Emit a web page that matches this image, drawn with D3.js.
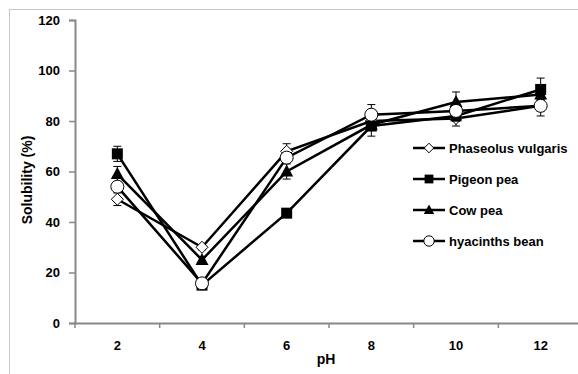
<!DOCTYPE html>
<html>
<head>
<meta charset="utf-8">
<script src="https://cdn.jsdelivr.net/npm/d3@7"></script>
<style>
  body { margin: 0; background: #fff; }
  svg text { font-family: "Liberation Sans", Arial, sans-serif; font-weight: bold; }
</style>
</head>
<body>
<svg id="chart"></svg>
<script>
// pH categories
const phLevels = ["2", "4", "6", "8", "10", "12"];
const yTicks = [0, 20, 40, 60, 80, 100, 120];

// solubility (%)
const phaseolus = [49, 30, 68, 80, 81, 86];
const pigeonPea = [67, 15, 43.5, 78, 82, 92.5];
const cowPea = [59, 25, 60, 78.5, 87.5, 90.5];
const hyacinth = [54, 15.7, 65.5, 82.5, 84, 86];

// error bars (+/-)
const phaseolusErr = [2.5, 1, 3, 2, 3, 2];
const pigeonErr = [3, 1, 1, 4, 2, 4.5];
const cowErr = [3, 1, 3, 2, 4, 2];
const hyacinthErr = [2, 1, 2, 4, 2, 4];

const seriesNames = ["Phaseolus vulgaris", "Pigeon pea", "Cow pea", "hyacinths bean"];
const seriesMarkers = ["diamond", "square", "triangle", "circle"];

const series = [
  { name: seriesNames[0], marker: seriesMarkers[0], values: phaseolus, err: phaseolusErr },
  { name: seriesNames[1], marker: seriesMarkers[1], values: pigeonPea, err: pigeonErr },
  { name: seriesNames[2], marker: seriesMarkers[2], values: cowPea, err: cowErr },
  { name: seriesNames[3], marker: seriesMarkers[3], values: hyacinth, err: hyacinthErr }
];

var width = 578, height = 374;
var plotLeft = 75, plotRight = 583, plotTop = 20, plotBottom = 323;

var svg = d3.select("#chart").attr("width", width).attr("height", height);

// outer chart border (cut off at right and bottom like the original)
svg.append("rect")
  .attr("x", 9.5).attr("y", 9.5)
  .attr("width", 600).attr("height", 400)
  .attr("fill", "none").attr("stroke", "#c8c8c8").attr("stroke-width", 1);

var x = d3.scaleBand().domain(phLevels).range([plotLeft, plotRight]).padding(0);
var y = d3.scaleLinear().domain([0, 120]).range([plotBottom, plotTop]);

// y axis
var yAxis = svg.append("g")
  .attr("transform", "translate(" + plotLeft + ",0)")
  .call(d3.axisLeft(y).tickValues(yTicks).tickSize(6).tickPadding(9));
yAxis.select(".domain").attr("stroke", "#888").attr("stroke-width", 2);
yAxis.selectAll(".tick line").attr("stroke", "#888").attr("stroke-width", 1.5);
yAxis.selectAll("text").attr("font-size", 13).attr("fill", "#000");

// x axis: labels in the middle of each band, ticks on the band edges
var xAxis = svg.append("g")
  .attr("transform", "translate(0," + plotBottom + ")")
  .call(d3.axisBottom(x).tickSize(0).tickPadding(18));
xAxis.select(".domain").attr("stroke", "#888").attr("stroke-width", 2);
xAxis.selectAll("text").attr("font-size", 13).attr("fill", "#000");

xAxis.selectAll(".edge")
  .data(phLevels.map(d => x(d)).concat([plotRight]))
  .join("line")
  .attr("class", "edge")
  .attr("x1", d => d).attr("x2", d => d)
  .attr("y1", 0).attr("y2", 5)
  .attr("stroke", "#888").attr("stroke-width", 1.5);

// axis titles
svg.append("text")
  .attr("x", 326).attr("y", 364)
  .attr("text-anchor", "middle")
  .attr("font-size", 14)
  .text("pH");

svg.append("text")
  .attr("transform", "translate(32,180) rotate(-90)")
  .attr("text-anchor", "middle")
  .attr("font-size", 14)
  .text("Solubility (%)");

var cx = d => x(d) + x.bandwidth() / 2;

// draw one marker shape, k scales it down for the legend
function drawMarker(g, kind, px, py, k) {
  k = k || 1;
  if (kind === "diamond") {
    var r = 6 * k;
    g.append("path")
      .attr("d", "M" + px + "," + (py - r) + " L" + (px + r) + "," + py + " L" + px + "," + (py + r) + " L" + (px - r) + "," + py + " Z")
      .attr("fill", "#fff").attr("stroke", "#000").attr("stroke-width", 1);
  } else if (kind === "square") {
    var s = 11 * k;
    g.append("rect")
      .attr("x", px - s / 2).attr("y", py - s / 2)
      .attr("width", s).attr("height", s)
      .attr("fill", "#000");
  } else if (kind === "triangle") {
    g.append("path")
      .attr("d", "M" + px + "," + (py - 7 * k) + " L" + (px + 6.5 * k) + "," + (py + 5 * k) + " L" + (px - 6.5 * k) + "," + (py + 5 * k) + " Z")
      .attr("fill", "#000");
  } else {
    g.append("circle")
      .attr("cx", px).attr("cy", py).attr("r", 6.5 * k)
      .attr("fill", "#fff").attr("stroke", "#000").attr("stroke-width", 1);
  }
}

var line = d3.line()
  .x((d, i) => cx(phLevels[i]))
  .y(d => y(d));

series.forEach(function (s) {
  var g = svg.append("g");

  // error bars
  s.values.forEach(function (v, i) {
    var px = cx(phLevels[i]);
    var e = s.err[i];
    g.append("line")
      .attr("x1", px).attr("x2", px)
      .attr("y1", y(v + e)).attr("y2", y(v - e))
      .attr("stroke", "#000").attr("stroke-width", 1);
    [v + e, v - e].forEach(function (w) {
      g.append("line")
        .attr("x1", px - 4).attr("x2", px + 4)
        .attr("y1", y(w)).attr("y2", y(w))
        .attr("stroke", "#000").attr("stroke-width", 1);
    });
  });

  g.append("path")
    .datum(s.values)
    .attr("d", line)
    .attr("fill", "none")
    .attr("stroke", "#000")
    .attr("stroke-width", 2.5);

  s.values.forEach(function (v, i) {
    drawMarker(g, s.marker, cx(phLevels[i]), y(v));
  });
});

// legend
var legend = svg.append("g");
series.forEach(function (s, i) {
  var ly = 148 + i * 31;
  legend.append("line")
    .attr("x1", 413).attr("x2", 445)
    .attr("y1", ly).attr("y2", ly)
    .attr("stroke", "#000").attr("stroke-width", 2.5);
  drawMarker(legend, s.marker, 429, ly, 0.8);
  legend.append("text")
    .attr("x", 449).attr("y", ly + 4.5)
    .attr("font-size", 13)
    .text(s.name);
});
</script>
</body>
</html>
